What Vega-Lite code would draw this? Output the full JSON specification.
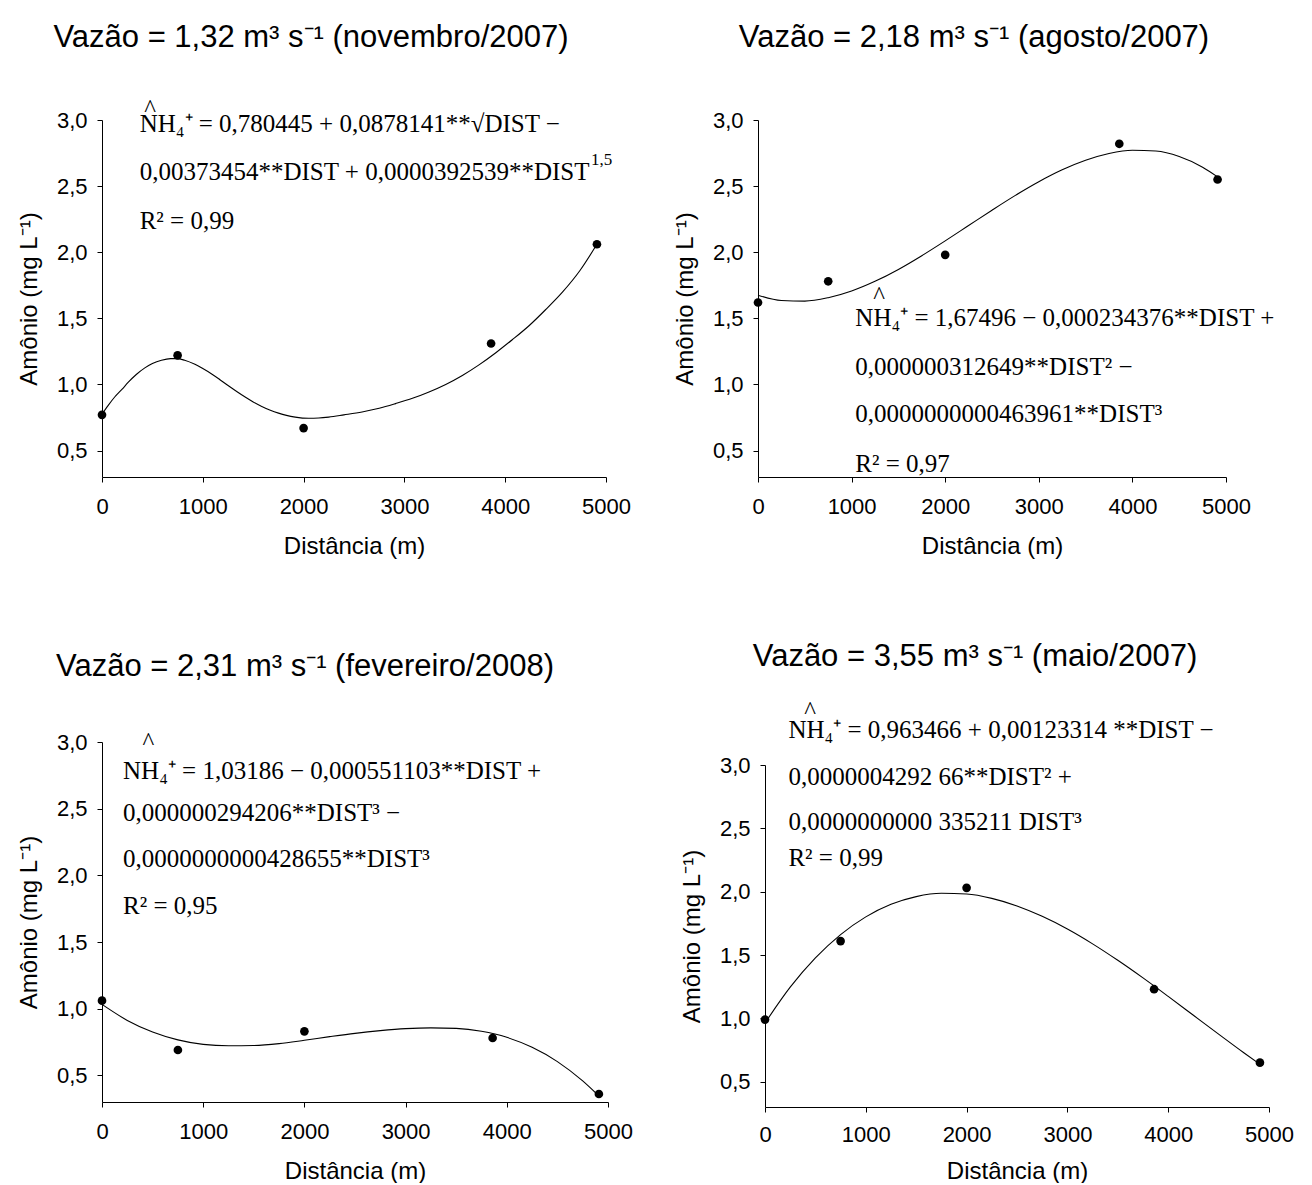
{
  "$schema": "https://vega.github.io/schema/vega-lite/v6.json",
  "background": "white",
  "padding": {"left": 17, "top": 22, "right": 0, "bottom": 0},
  "datasets": {
    "pts": [
      {"p": 1, "d": 0, "v": 0.77}, {"p": 1, "d": 750, "v": 1.22}, {"p": 1, "d": 2000, "v": 0.67}, {"p": 1, "d": 3860, "v": 1.31}, {"p": 1, "d": 4910, "v": 2.06},
      {"p": 2, "d": 0, "v": 1.62}, {"p": 2, "d": 750, "v": 1.78}, {"p": 2, "d": 2000, "v": 1.98}, {"p": 2, "d": 3860, "v": 2.82}, {"p": 2, "d": 4910, "v": 2.55},
      {"p": 3, "d": 0, "v": 1.06}, {"p": 3, "d": 750, "v": 0.69}, {"p": 3, "d": 2000, "v": 0.83}, {"p": 3, "d": 3860, "v": 0.78}, {"p": 3, "d": 4910, "v": 0.36},
      {"p": 4, "d": 0, "v": 0.99}, {"p": 4, "d": 750, "v": 1.61}, {"p": 4, "d": 2000, "v": 2.03}, {"p": 4, "d": 3860, "v": 1.23}, {"p": 4, "d": 4910, "v": 0.65}
    ],
    "fit": [
      {"p": 1, "d": 0, "v": 0.775}, {"p": 1, "d": 60, "v": 0.84}, {"p": 1, "d": 126, "v": 0.905}, {"p": 1, "d": 200, "v": 0.965}, {"p": 1, "d": 259, "v": 1.015}, {"p": 1, "d": 340, "v": 1.075}, {"p": 1, "d": 425, "v": 1.125}, {"p": 1, "d": 500, "v": 1.158}, {"p": 1, "d": 590, "v": 1.183}, {"p": 1, "d": 680, "v": 1.195}, {"p": 1, "d": 740, "v": 1.195}, {"p": 1, "d": 820, "v": 1.183}, {"p": 1, "d": 922, "v": 1.152}, {"p": 1, "d": 1000, "v": 1.12}, {"p": 1, "d": 1088, "v": 1.079}, {"p": 1, "d": 1170, "v": 1.036}, {"p": 1, "d": 1254, "v": 0.99}, {"p": 1, "d": 1340, "v": 0.945}, {"p": 1, "d": 1420, "v": 0.905}, {"p": 1, "d": 1500, "v": 0.868}, {"p": 1, "d": 1585, "v": 0.834}, {"p": 1, "d": 1670, "v": 0.805}, {"p": 1, "d": 1751, "v": 0.783}, {"p": 1, "d": 1830, "v": 0.766}, {"p": 1, "d": 1917, "v": 0.753}, {"p": 1, "d": 2050, "v": 0.744}, {"p": 1, "d": 2150, "v": 0.746}, {"p": 1, "d": 2249, "v": 0.753}, {"p": 1, "d": 2400, "v": 0.77}, {"p": 1, "d": 2580, "v": 0.792}, {"p": 1, "d": 2750, "v": 0.82}, {"p": 1, "d": 2912, "v": 0.855}, {"p": 1, "d": 3080, "v": 0.895}, {"p": 1, "d": 3244, "v": 0.943}, {"p": 1, "d": 3410, "v": 1.0}, {"p": 1, "d": 3575, "v": 1.068}, {"p": 1, "d": 3740, "v": 1.148}, {"p": 1, "d": 3907, "v": 1.24}, {"p": 1, "d": 4070, "v": 1.338}, {"p": 1, "d": 4239, "v": 1.446}, {"p": 1, "d": 4400, "v": 1.565}, {"p": 1, "d": 4570, "v": 1.7}, {"p": 1, "d": 4740, "v": 1.86}, {"p": 1, "d": 4910, "v": 2.06},
      {"p": 2, "d": 0, "v": 1.675}, {"p": 2, "d": 250, "v": 1.635}, {"p": 2, "d": 500, "v": 1.63}, {"p": 2, "d": 750, "v": 1.656}, {"p": 2, "d": 1000, "v": 1.707}, {"p": 2, "d": 1250, "v": 1.78}, {"p": 2, "d": 1500, "v": 1.87}, {"p": 2, "d": 1750, "v": 1.974}, {"p": 2, "d": 2000, "v": 2.086}, {"p": 2, "d": 2250, "v": 2.202}, {"p": 2, "d": 2500, "v": 2.318}, {"p": 2, "d": 2750, "v": 2.43}, {"p": 2, "d": 3000, "v": 2.533}, {"p": 2, "d": 3250, "v": 2.623}, {"p": 2, "d": 3500, "v": 2.695}, {"p": 2, "d": 3750, "v": 2.746}, {"p": 2, "d": 4000, "v": 2.771}, {"p": 2, "d": 4250, "v": 2.765}, {"p": 2, "d": 4500, "v": 2.724}, {"p": 2, "d": 4750, "v": 2.643}, {"p": 2, "d": 4910, "v": 2.57},
      {"p": 3, "d": 0, "v": 1.032}, {"p": 3, "d": 250, "v": 0.912}, {"p": 3, "d": 500, "v": 0.825}, {"p": 3, "d": 750, "v": 0.766}, {"p": 3, "d": 1000, "v": 0.732}, {"p": 3, "d": 1250, "v": 0.722}, {"p": 3, "d": 1500, "v": 0.724}, {"p": 3, "d": 1750, "v": 0.738}, {"p": 3, "d": 2000, "v": 0.763}, {"p": 3, "d": 2250, "v": 0.79}, {"p": 3, "d": 2500, "v": 0.815}, {"p": 3, "d": 2750, "v": 0.835}, {"p": 3, "d": 3000, "v": 0.85}, {"p": 3, "d": 3250, "v": 0.856}, {"p": 3, "d": 3500, "v": 0.852}, {"p": 3, "d": 3750, "v": 0.83}, {"p": 3, "d": 4000, "v": 0.785}, {"p": 3, "d": 4250, "v": 0.71}, {"p": 3, "d": 4500, "v": 0.603}, {"p": 3, "d": 4750, "v": 0.458}, {"p": 3, "d": 4910, "v": 0.345},
      {"p": 4, "d": 0, "v": 0.963}, {"p": 4, "d": 250, "v": 1.246}, {"p": 4, "d": 500, "v": 1.477}, {"p": 4, "d": 750, "v": 1.661}, {"p": 4, "d": 1000, "v": 1.801}, {"p": 4, "d": 1250, "v": 1.9}, {"p": 4, "d": 1500, "v": 1.961}, {"p": 4, "d": 1750, "v": 1.987}, {"p": 4, "d": 2000, "v": 1.981}, {"p": 4, "d": 2250, "v": 1.947}, {"p": 4, "d": 2500, "v": 1.887}, {"p": 4, "d": 2750, "v": 1.805}, {"p": 4, "d": 3000, "v": 1.705}, {"p": 4, "d": 3250, "v": 1.588}, {"p": 4, "d": 3500, "v": 1.458}, {"p": 4, "d": 3750, "v": 1.319}, {"p": 4, "d": 4000, "v": 1.173}, {"p": 4, "d": 4250, "v": 1.024}, {"p": 4, "d": 4500, "v": 0.875}, {"p": 4, "d": 4750, "v": 0.728}, {"p": 4, "d": 4910, "v": 0.637}
    ],
    "eq": [
      {"p": 1, "k": "line", "d": 420, "v": 3.08, "t": "^"},
      {"p": 1, "k": "line", "d": 374, "v": 2.97, "t": "NH₄⁺ = 0,780445 + 0,0878141**√DIST −"},
      {"p": 1, "k": "line", "d": 374, "v": 2.607, "t": "0,00373454**DIST + 0,0000392539**DIST"},
      {"p": 1, "k": "sup", "d": 4850, "v": 2.7, "t": "1,5"},
      {"p": 1, "k": "line", "d": 374, "v": 2.236, "t": "R² = 0,99"},
      {"p": 2, "k": "line", "d": 1230, "v": 1.67, "t": "^"},
      {"p": 2, "k": "line", "d": 1040, "v": 1.5, "t": "NH₄⁺ = 1,67496 − 0,000234376**DIST +"},
      {"p": 2, "k": "line", "d": 1040, "v": 1.133, "t": "0,000000312649**DIST² −"},
      {"p": 2, "k": "line", "d": 1040, "v": 0.778, "t": "0,0000000000463961**DIST³"},
      {"p": 2, "k": "line", "d": 1040, "v": 0.4, "t": "R² = 0,97"},
      {"p": 3, "k": "line", "d": 400, "v": 3.0, "t": "^"},
      {"p": 3, "k": "line", "d": 208, "v": 2.78, "t": "NH₄⁺ = 1,03186 − 0,000551103**DIST +"},
      {"p": 3, "k": "line", "d": 208, "v": 2.47, "t": "0,000000294206**DIST³ −"},
      {"p": 3, "k": "line", "d": 208, "v": 2.12, "t": "0,0000000000428655**DIST³"},
      {"p": 3, "k": "line", "d": 208, "v": 1.77, "t": "R² = 0,95"},
      {"p": 4, "k": "line", "d": 390, "v": 3.426, "t": "^"},
      {"p": 4, "k": "line", "d": 232, "v": 3.276, "t": "NH₄⁺ = 0,963466 + 0,00123314 **DIST −"},
      {"p": 4, "k": "line", "d": 232, "v": 2.908, "t": "0,0000004292 66**DIST² +"},
      {"p": 4, "k": "line", "d": 232, "v": 2.553, "t": "0,0000000000 335211 DIST³"},
      {"p": 4, "k": "line", "d": 232, "v": 2.263, "t": "R² = 0,99"}
    ]
  },
  "vconcat": [
    {
      "hconcat": [
        {
          "title": {"text": "Vazão = 1,32 m³ s⁻¹ (novembro/2007)", "dx": -43, "offset": 43},
          "width": 504, "height": 357,
          "encoding": {
            "x": {"field": "d", "type": "quantitative", "scale": {"domain": [0, 5000], "nice": false, "zero": false}, "axis": {"values": [0, 1000, 2000, 3000, 4000, 5000], "format": "d"}, "title": "Distância (m)"},
            "y": {"field": "v", "type": "quantitative", "scale": {"domain": [0.3, 3.0], "nice": false, "zero": false}, "axis": {"values": [0.5, 1, 1.5, 2, 2.5, 3], "labelExpr": "replace(format(datum.value, '.1f'), '.', ',')"}, "title": "Amônio (mg L⁻¹)"}
          },
          "layer": [
            {"data": {"name": "fit"}, "transform": [{"filter": "datum.p == 1"}], "mark": {"type": "line", "color": "black", "strokeWidth": 1.1, "interpolate": "monotone"}},
            {"data": {"name": "pts"}, "transform": [{"filter": "datum.p == 1"}], "mark": {"type": "circle", "color": "black", "size": 75, "opacity": 1}},
            {"data": {"name": "eq"}, "transform": [{"filter": "datum.p == 1 && datum.k == 'line'"}], "mark": {"type": "text", "align": "left", "baseline": "middle", "fontSize": 25}, "encoding": {"text": {"field": "t"}}},
            {"data": {"name": "eq"}, "transform": [{"filter": "datum.p == 1 && datum.k == 'sup'"}], "mark": {"type": "text", "align": "left", "baseline": "middle", "fontSize": 17}, "encoding": {"text": {"field": "t"}}}
          ]
        },
        {
          "title": {"text": "Vazão = 2,18 m³ s⁻¹ (agosto/2007)", "dx": -18, "offset": 55},
          "width": 468, "height": 357,
          "encoding": {
            "x": {"field": "d", "type": "quantitative", "scale": {"domain": [0, 5000], "nice": false, "zero": false}, "axis": {"values": [0, 1000, 2000, 3000, 4000, 5000], "format": "d"}, "title": "Distância (m)"},
            "y": {"field": "v", "type": "quantitative", "scale": {"domain": [0.3, 3.0], "nice": false, "zero": false}, "axis": {"values": [0.5, 1, 1.5, 2, 2.5, 3], "labelExpr": "replace(format(datum.value, '.1f'), '.', ',')"}, "title": "Amônio (mg L⁻¹)"}
          },
          "layer": [
            {"data": {"name": "fit"}, "transform": [{"filter": "datum.p == 2"}], "mark": {"type": "line", "color": "black", "strokeWidth": 1.1, "interpolate": "monotone"}},
            {"data": {"name": "pts"}, "transform": [{"filter": "datum.p == 2"}], "mark": {"type": "circle", "color": "black", "size": 75, "opacity": 1}},
            {"data": {"name": "eq"}, "transform": [{"filter": "datum.p == 2 && datum.k == 'line'"}], "mark": {"type": "text", "align": "left", "baseline": "middle", "fontSize": 25}, "encoding": {"text": {"field": "t"}}}
          ]
        }
      ],
      "spacing": 42
    },
    {
      "hconcat": [
        {
          "title": {"text": "Vazão = 2,31 m³ s⁻¹ (fevereiro/2008)", "dx": -50, "offset": 47.5},
          "width": 506, "height": 360,
          "encoding": {
            "x": {"field": "d", "type": "quantitative", "scale": {"domain": [0, 5000], "nice": false, "zero": false}, "axis": {"values": [0, 1000, 2000, 3000, 4000, 5000], "format": "d"}, "title": "Distância (m)"},
            "y": {"field": "v", "type": "quantitative", "scale": {"domain": [0.3, 3.0], "nice": false, "zero": false}, "axis": {"values": [0.5, 1, 1.5, 2, 2.5, 3], "labelExpr": "replace(format(datum.value, '.1f'), '.', ',')"}, "title": "Amônio (mg L⁻¹)"}
          },
          "layer": [
            {"data": {"name": "fit"}, "transform": [{"filter": "datum.p == 3"}], "mark": {"type": "line", "color": "black", "strokeWidth": 1.1, "interpolate": "monotone"}},
            {"data": {"name": "pts"}, "transform": [{"filter": "datum.p == 3"}], "mark": {"type": "circle", "color": "black", "size": 75, "opacity": 1}},
            {"data": {"name": "eq"}, "transform": [{"filter": "datum.p == 3 && datum.k == 'line'"}], "mark": {"type": "text", "align": "left", "baseline": "middle", "fontSize": 25}, "encoding": {"text": {"field": "t"}}}
          ]
        },
        {
          "title": {"text": "Vazão = 3,55 m³ s⁻¹ (maio/2007)", "dx": -42, "offset": 26.5},
          "width": 504, "height": 365,
          "encoding": {
            "x": {"field": "d", "type": "quantitative", "scale": {"domain": [0, 5000], "nice": false, "zero": false}, "axis": {"values": [0, 1000, 2000, 3000, 4000, 5000], "format": "d", "labelPadding": 12, "titlePadding": 14}, "title": "Distância (m)"},
            "y": {"field": "v", "type": "quantitative", "scale": {"domain": [0.3, 3.0], "range": [365, 23], "nice": false, "zero": false}, "axis": {"values": [0.5, 1, 1.5, 2, 2.5, 3], "labelExpr": "replace(format(datum.value, '.1f'), '.', ',')"}, "title": "Amônio (mg L⁻¹)"}
          },
          "layer": [
            {"data": {"name": "fit"}, "transform": [{"filter": "datum.p == 4"}], "mark": {"type": "line", "color": "black", "strokeWidth": 1.1, "interpolate": "monotone"}},
            {"data": {"name": "pts"}, "transform": [{"filter": "datum.p == 4"}], "mark": {"type": "circle", "color": "black", "size": 75, "opacity": 1}},
            {"data": {"name": "eq"}, "transform": [{"filter": "datum.p == 4 && datum.k == 'line'"}], "mark": {"type": "text", "align": "left", "baseline": "middle", "fontSize": 25}, "encoding": {"text": {"field": "t"}}}
          ]
        }
      ],
      "spacing": 47
    }
  ],
  "spacing": 82,
  "config": {
    "font": "Liberation Sans",
    "view": {"stroke": null},
    "axis": {"grid": false, "domainColor": "#000", "tickColor": "#000", "labelColor": "#000", "titleColor": "#000", "labelFontSize": 22, "titleFontSize": 24, "titleFontWeight": "normal", "tickSize": 5, "labelFont": "Liberation Sans", "titleFont": "Liberation Sans", "labelFlush": false, "labelOverlap": false},
    "axisX": {"labelPadding": 14, "titlePadding": 17},
    "axisY": {"labelPadding": 10, "titlePadding": 15},
    "title": {"fontSize": 31, "fontWeight": "normal", "font": "Liberation Sans", "color": "#000", "frame": "group", "anchor": "middle"},
    "text": {"font": "Liberation Serif", "color": "#000"}
  }
}
